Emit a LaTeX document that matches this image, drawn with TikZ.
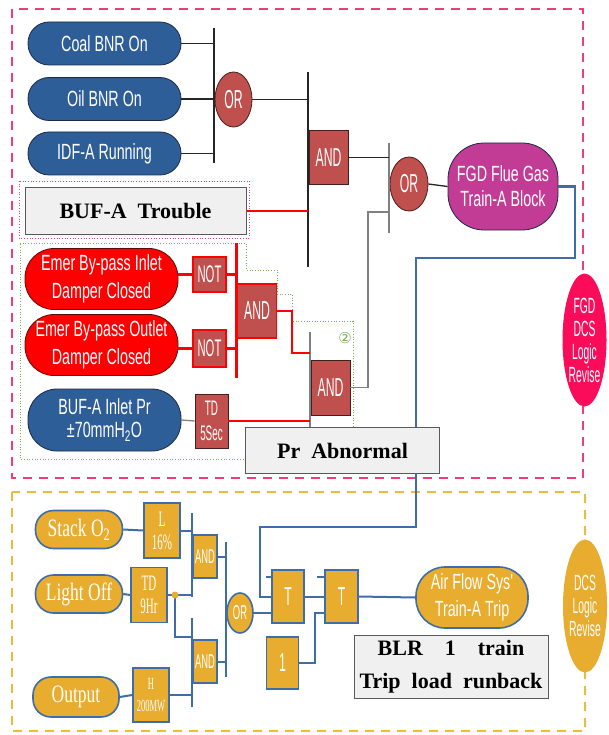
\documentclass[tikz,border=0pt]{standalone}
\usepackage{fontspec}
\setmainfont{Liberation Serif}
\newfontfamily\narrowsf[FakeStretch=0.65]{Liberation Sans}
\newfontfamily\gatesf[FakeStretch=0.47]{Liberation Sans}
\newfontfamily\narrowrm[FakeStretch=0.7]{Liberation Serif}
\newfontfamily\tallrm[FakeStretch=0.5]{Liberation Serif}
\newfontfamily\circsf{DejaVu Sans}
\usetikzlibrary{calc,positioning,shapes.geometric}
\definecolor{fgdNavy}{RGB}{46,94,152}
\definecolor{fgdNavyDark}{RGB}{28,42,70}
\definecolor{fgdGate}{RGB}{192,80,77}
\definecolor{fgdGateDark}{RGB}{70,30,30}
\definecolor{fgdRed}{RGB}{255,0,0}
\definecolor{fgdRedDark}{RGB}{90,10,10}
\definecolor{fgdMagenta}{RGB}{194,60,150}
\definecolor{fgdPink}{RGB}{240,60,120}
\definecolor{fgdCrimson}{RGB}{250,12,90}
\definecolor{fgdGray}{RGB}{240,240,240}
\definecolor{fgdLine}{RGB}{62,109,168}
\definecolor{fgdGreen}{RGB}{120,170,80}
\definecolor{dcsGold}{RGB}{232,172,46}
\definecolor{dcsDash}{RGB}{240,185,60}

\begin{document}
\begin{tikzpicture}[x=1pt,y=-1pt,
sig/.style={draw=fgdNavyDark, line width=0.8pt, fill=fgdNavy, text=white, align=center, inner sep=0pt,
  rounded corners=21pt, minimum width=153pt, minimum height=43pt, font=\narrowsf\fontsize{22}{28}\selectfont},
sigRed/.style={sig, fill=fgdRed, draw=fgdRedDark, rounded corners=29pt, minimum height=61pt},
gateBox/.style={draw=fgdGateDark, line width=0.8pt, fill=fgdGate, text=white, inner sep=0pt,
  minimum width=39pt, minimum height=54pt, align=center, font=\gatesf\fontsize{26}{26}\selectfont},
gateOr/.style={gateBox, ellipse, minimum width=37pt, minimum height=55pt},
notBox/.style={gateBox, draw=fgdRed, line width=1.5pt, minimum width=33pt, minimum height=36pt, font=\gatesf\fontsize{24}{24}\selectfont},
noteBox/.style={draw=black!65, line width=1pt, fill=fgdGray, inner sep=0pt, align=center, font=\bfseries\fontsize{22}{33}\selectfont},
reviseOval/.style={ellipse, text=white, inner sep=0pt, inner xsep=-8pt, minimum width=44pt, minimum height=133pt,
  align=center, font=\gatesf\fontsize{22}{23}\selectfont},
wire/.style={black!85, line width=1.3pt},
grayWire/.style={black!50, line width=1.3pt},
redWire/.style={fgdRed, line width=2.8pt},
blueWire/.style={fgdLine, line width=2.2pt},
dcsWire/.style={fgdLine, line width=2pt},
dcsSig/.style={draw=fgdLine, line width=1.6pt, fill=dcsGold, text=white, inner sep=0pt, rounded corners=18pt,
  minimum width=87pt, minimum height=38pt, font=\narrowrm\fontsize{25}{25}\selectfont},
dcsBox/.style={draw=fgdLine, line width=1.6pt, fill=dcsGold, text=white, inner sep=0pt, align=center,
  minimum width=36pt, minimum height=54pt, font=\tallrm\fontsize{22}{23}\selectfont},
dcsGate/.style={dcsBox, minimum width=24pt, minimum height=43pt, font=\gatesf\fontsize{20}{20}\selectfont},
dcsOr/.style={dcsGate, ellipse, minimum width=26pt, minimum height=40pt}]
\useasboundingbox (0,0) rectangle (608,735);

\draw[fgdPink, line width=2pt, dash pattern=on 9pt off 7pt] (12,9) rectangle (583,478);
\draw[dcsDash, line width=2pt, dash pattern=on 9pt off 7pt] (12,492) rectangle (585,731);
\draw[fgdPink, dotted, line width=0.7pt] (19,181) rectangle (249,238);
\draw[fgdGreen, dotted, line width=0.7pt] (20,243) -- (246,243) -- (246,270) -- (277,270) -- (277,294)
  -- (292,294) -- (292,321) -- (353,321) -- (353,459) -- (20,459) -- cycle;

\node[sig] (coalBnr) at (104.5,43.5) {Coal BNR On};
\node[sig] (oilBnr) at (104.5,99) {Oil BNR On};
\node[sig] (idfRun) at (104.5,153.5) {IDF-A Running};
\node[gateOr] (orTop) at (233.5,99.5) {OR};
\node[gateBox] (andTop) at (328.5,157.5) {AND};
\node[noteBox, minimum width=221pt, minimum height=46pt] (bufTrouble) at (135.5,211) {BUF-A~~Trouble};
\node[gateOr, minimum width=38pt, minimum height=54pt] (orFgd) at (409,184) {OR};
\node[sig, fill=fgdMagenta, rounded corners=36pt, minimum width=110pt, minimum height=87pt,
  font=\narrowsf\fontsize{22}{25}\selectfont] (fgdBlock) at (503,186.5) {FGD Flue Gas\\Train-A Block};

\node[sigRed] (inletDmp) at (101.5,279) {Emer By-pass Inlet\\Damper Closed};
\node[sigRed] (outletDmp) at (101.5,345) {Emer By-pass Outlet\\Damper Closed};
\node[notBox, minimum height=35pt] (notIn) at (209.5,274.5) {NOT};
\node[notBox, minimum height=37pt] (notOut) at (209.5,348.5) {NOT};
\node[gateBox, draw=fgdRed, line width=1.5pt] (andDmp) at (257,311) {AND};
\node[gateBox, minimum height=55pt] (andPr) at (330.5,387.5) {AND};
\node[sig, rounded corners=29pt, minimum height=62pt, font=\narrowsf\fontsize{22}{23}\selectfont]
  (bufInlet) at (104.5,420) {BUF-A Inlet Pr\\±70mmH\textsubscript{2}O};
\node[gateBox, minimum width=33pt, font=\gatesf\fontsize{21}{25}\selectfont] (tdSec) at (211.5,421) {TD\\5Sec};
\node[text=fgdGreen, font=\circsf\fontsize{15}{15}\selectfont] (markTwo) at (345,338) {②};
\node[reviseOval, fill=fgdCrimson] (fgdRevise) at (584.5,340) {FGD\\DCS\\Logic\\Revise};

\node[dcsSig] (stackO) at (79,529.5) {Stack O\textsubscript{2}};
\node[dcsSig] (lightOff) at (79,594) {Light Off};
\node[dcsSig, minimum width=86pt, minimum height=40pt] (outPut) at (76,697) {Output};
\node[dcsBox, minimum height=55pt] (lowO) at (162,530.5) {L\\16\%};
\node[dcsBox, minimum height=55pt] (tdHr) at (149,595) {TD\\9Hr};
\node[dcsBox, font=\tallrm\fontsize{17}{22}\selectfont] (hiMw) at (151,695) {H\\200MW};
\node[dcsGate] (andO) at (205,556.5) {AND};
\node[dcsGate] (andMw) at (205,661.5) {AND};
\node[dcsOr] (orDcs) at (240,613) {OR};
\node[dcsBox, minimum width=32pt, minimum height=53pt, font=\gatesf\fontsize{26}{26}\selectfont] (tOne) at (288,596.5) {T};
\node[dcsBox, minimum width=33pt, minimum height=53pt, font=\gatesf\fontsize{26}{26}\selectfont] (tTwo) at (341.5,596.5) {T};
\node[dcsBox, minimum width=32pt, minimum height=52pt, font=\gatesf\fontsize{26}{26}\selectfont] (oneBox) at (282.5,663) {1};
\node[dcsSig, align=center, rounded corners=29pt, minimum width=112pt, minimum height=61pt,
  font=\narrowsf\fontsize{22}{27}\selectfont] (airTrip) at (472,597.5) {Air Flow Sys'\\Train-A Trip};
\node[noteBox, minimum width=194pt, minimum height=63pt] (blrBox) at (451,667)
  {BLR\hspace{22pt}1\hspace{22pt}train\\Trip~~load~~runback};
\node[reviseOval, fill=dcsGold] (dcsRevise) at (585,606) {DCS\\Logic\\Revise};

\coordinate (busA1) at (214,28);
\coordinate (busA2) at (214,163);
\coordinate (busB1) at (308,72);
\coordinate (busB2) at (308,267);
\coordinate (busC1) at (389,143);
\coordinate (busC2) at (389,233);
\coordinate (andPrUp) at (368,212);
\draw[wire] (busA1) -- (busA2);
\draw[wire] (coalBnr.east) -- (coalBnr.east -| busA1);
\draw[wire] (oilBnr.east) -- (oilBnr.east -| busA1);
\draw[wire] (idfRun.east) -- (idfRun.east -| busA1);
\draw[wire] (busB1) -- (busB2);
\draw[wire] (orTop.east) -- (orTop.east -| busB1);
\draw[redWire] (bufTrouble.east) -- (bufTrouble.east -| busB1);
\draw[grayWire] (busC1) -- (busC2);
\draw[wire] (andTop.east) -- (andTop.east -| busC1);
\draw[wire] (orFgd.east) -- (fgdBlock.west);
\draw[grayWire] (andPr.east) -| (andPrUp) -- (andPrUp -| busC1);

\coordinate (busD1) at (236.5,243);
\coordinate (busD2) at (236.5,378);
\coordinate (busE1) at (310,332);
\coordinate (busE2) at (310,428);
\coordinate (dmpTurn) at (292,353);
\draw[redWire] (busD1) -- (busD2);
\draw[redWire] (notIn.west) -- (notIn.west -| inletDmp.east);
\draw[redWire] (notOut.west) -- (notOut.west -| outletDmp.east);
\draw[redWire] (notIn.east) -- (notIn.east -| busD1);
\draw[redWire] (notOut.east) -- (notOut.east -| busD1);
\draw[grayWire] (busE1) -- (busE2);
\draw[redWire] (andDmp.east) -| (dmpTurn) -- (dmpTurn -| busE1);
\draw[grayWire] (bufInlet.east) -- (tdSec.west);
\draw[redWire] (tdSec.east) -- (tdSec.east -| busE1);

\coordinate (fbTurn) at (575,258);
\coordinate (fbDown) at (416,527);
\coordinate (fbIn) at (260,597);
\draw[blueWire] (fgdBlock.east) -| (fbTurn) -| (fbDown) -| (fbIn) -- (fbIn -| tOne.west);

\coordinate (busF1) at (192,513);
\coordinate (busF2) at (192,597);
\coordinate (busG1) at (192,618);
\coordinate (busG2) at (192,707);
\coordinate (busH1) at (226,542);
\coordinate (busH2) at (226,677);
\coordinate (tdDot) at (175,595);
\coordinate (hrTurn) at (175,637);
\coordinate (oneTurn) at (315,613);
\draw[dcsWire] (stackO.east) -- (lowO.west);
\draw[dcsWire] (lightOff.east) -- (tdHr.west);
\draw[dcsWire] (outPut.east) -- (hiMw.west);
\draw[dcsWire] (busF1) -- (busF2);
\draw[dcsWire] (busG1) -- (busG2);
\draw[dcsWire] (busH1) -- (busH2);
\draw[dcsWire] (lowO.east) -- (lowO.east -| busF1);
\draw[dcsWire] (tdHr.east) -- (tdHr.east -| busF1);
\draw[dcsWire] (tdDot) -- (hrTurn) -- (hrTurn -| busG1);
\fill[dcsGold] (tdDot) circle (3.5);
\draw[dcsWire] (hiMw.east) -- (hiMw.east -| busG1);
\draw[dcsWire] (andO.east) -- (andO.east -| busH1);
\draw[dcsWire] (andMw.east) -- (andMw.east -| busH1);
\draw[dcsWire] (orDcs.east) -- (orDcs.east -| tOne.west);
\draw[dcsWire] (tOne.east) -- (tTwo.west);
\draw[dcsWire] (tOne.north west) ++(0,8) -- ++(-5,0);
\draw[dcsWire] (tTwo.north west) ++(0,8) -- ++(-7,0);
\draw[dcsWire] (oneBox.east) -| (oneTurn) -- (oneTurn -| tTwo.west);
\draw[dcsWire] (tTwo.east) -- (airTrip.west);

\node[noteBox, minimum width=194pt, minimum height=46pt] (prAbnormal) at (342.5,450.5) {Pr~~Abnormal};
\end{tikzpicture}
\end{document}
